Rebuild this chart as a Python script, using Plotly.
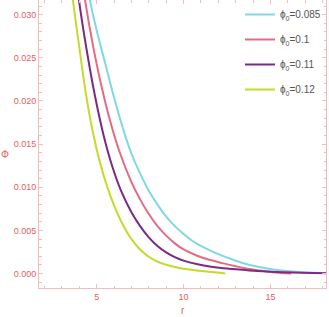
import plotly.graph_objects as go

# Data (r, Phi)
r_012 = [3.40, 3.63, 4.00, 4.40, 4.80, 5.20, 5.60, 6.00, 6.40, 6.90, 7.40, 7.90, 8.40, 9.00, 9.50, 10.20, 10.90, 11.60, 12.40]
p_012 = [0.0355, 0.0317, 0.0262, 0.0206, 0.0162, 0.0128, 0.0101, 0.0079, 0.0061, 0.0043, 0.0030, 0.0021, 0.00148, 0.00102, 0.00076, 0.00050, 0.00032, 0.00017, 0.00002]

r_011 = [3.70, 3.98, 4.40, 4.90, 5.40, 5.90, 6.40, 7.00, 7.50, 8.00, 8.50, 9.00, 9.50, 10.00, 10.75, 11.50, 12.30, 13.00, 13.80, 14.80, 15.80, 16.80, 18.30]
p_011 = [0.0365, 0.0317, 0.0262, 0.0206, 0.0160, 0.0124, 0.0096, 0.0071, 0.0055, 0.0042, 0.0032, 0.00245, 0.0019, 0.0015, 0.00110, 0.00083, 0.00063, 0.00049, 0.00036, 0.00024, 0.00015, 0.00009, 0.00005]

r_010 = [4.05, 4.33, 4.80, 5.30, 5.80, 6.30, 7.00, 7.50, 8.00, 8.50, 9.00, 9.50, 10.00, 10.75, 11.50, 12.30, 13.00, 13.80, 14.80, 15.50, 16.20]
p_010 = [0.0357, 0.0317, 0.0263, 0.0215, 0.0175, 0.0142, 0.0106, 0.0086, 0.0069, 0.0055, 0.0044, 0.0035, 0.0028, 0.0021, 0.0016, 0.00118, 0.00085, 0.00052, 0.00024, 0.00010, 0.00001]

r_0085 = [4.35, 4.61, 5.00, 5.50, 6.00, 6.50, 7.00, 7.50, 8.00, 8.50, 9.00, 9.50, 10.00, 10.50, 11.00, 11.50, 12.00, 12.85, 13.80, 14.80, 15.80, 16.70, 17.50, 18.30]
p_0085 = [0.0350, 0.0317, 0.0282, 0.0243, 0.0204, 0.0169, 0.0139, 0.0116, 0.0096, 0.0080, 0.0066, 0.0055, 0.0046, 0.0038, 0.0032, 0.0027, 0.00225, 0.0016, 0.0010, 0.0006, 0.00033, 0.00019, 0.00010, 0.00005]

labels = ["ϕ<sub>0</sub>=0.085", "ϕ<sub>0</sub>=0.1", "ϕ<sub>0</sub>=0.11", "ϕ<sub>0</sub>=0.12"]
colors = ["#80d8e6", "#e56a85", "#7b2a85", "#c6da2a"]
series = [(r_0085, p_0085), (r_010, p_010), (r_011, p_011), (r_012, p_012)]

x_ticks = [5, 10, 15]
y_ticks = [0.000, 0.005, 0.010, 0.015, 0.020, 0.025, 0.030]

fig = go.Figure()
for (rx, py), lab, c in zip(series, labels, colors):
    fig.add_trace(go.Scatter(x=rx, y=py, mode="lines", name=lab, legendgroup=lab,
                             line=dict(color=c, width=2, shape="spline", smoothing=1.2)))

frame = "#f6bcbc"
fontfam = "Liberation Sans, Arial, sans-serif"
tickfont = dict(family=fontfam, size=9, color="#e4605f")

fig.update_xaxes(range=[1.68, 18.2], tickvals=x_ticks, ticks="inside", ticklen=4, tickcolor=frame,
                 showline=True, linecolor=frame, linewidth=1, mirror="allticks", showgrid=False,
                 zeroline=False, tickfont=tickfont, automargin=False,
                 minor=dict(ticks="inside", dtick=1, ticklen=2.5, tickcolor=frame, showgrid=False))
fig.update_yaxes(range=[-0.00167, 0.0317], tickvals=y_ticks, tickformat=".3f", ticks="inside", ticklen=4,
                 tickcolor=frame, showline=True, linecolor=frame, linewidth=1, mirror="allticks",
                 showgrid=False, zeroline=False, tickfont=tickfont, automargin=False,
                 minor=dict(ticks="inside", dtick=0.001, ticklen=2.5, tickcolor=frame, showgrid=False))

fig.update_layout(
    width=329, height=317, autosize=False,
    margin=dict(l=39, r=3, t=0, b=29),
    paper_bgcolor="white", plot_bgcolor="white",
    legend=dict(x=1, y=1, xanchor="right", yanchor="top", bgcolor="rgba(0,0,0,0)",
                font=dict(family=fontfam, size=10, color="#555555"),
                tracegroupgap=6),
    annotations=[
        dict(text="r", xref="paper", yref="paper", x=0.5, y=0, yshift=-22, showarrow=False,
             xanchor="center", yanchor="middle", font=dict(family=fontfam, size=10, color="#e4605f")),
        dict(text="Φ", xref="paper", yref="paper", x=0, xshift=-34, y=0.465, showarrow=False,
             xanchor="center", yanchor="middle", font=dict(family=fontfam, size=10, color="#e4605f")),
    ],
)

post = "document.body.style.margin='0';document.body.style.overflow='hidden';"

fig.write_html("out.html", config={"displayModeBar": False}, post_script=post)
